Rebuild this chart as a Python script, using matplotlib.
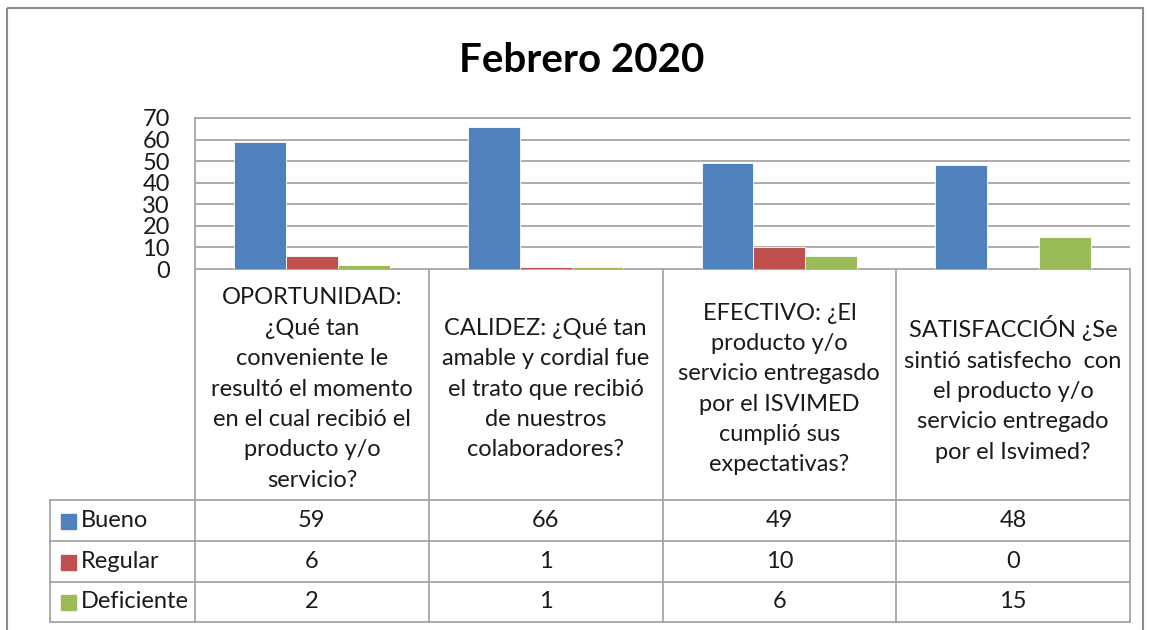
import numpy as np
import matplotlib.pyplot as plt
from matplotlib.patches import Rectangle

plt.rcParams['font.family'] = ['Lato', 'DejaVu Sans']

# Data
categories = [
    "OPORTUNIDAD:\n¿Qué tan\nconveniente le\nresultó el momento\nen el cual recibió el\nproducto y/o\nservicio?",
    "CALIDEZ: ¿Qué tan\namable y cordial fue\nel trato que recibió\nde nuestros\ncolaboradores?",
    "EFECTIVO: ¿El\nproducto y/o\nservicio entregasdo\npor el ISVIMED\ncumplió sus\nexpectativas?",
    "SATISFACCIÓN ¿Se\nsintió satisfecho  con\nel producto y/o\nservicio entregado\npor el Isvimed?",
]
series = ["Bueno", "Regular", "Deficiente"]
bueno = [59, 66, 49, 48]
regular = [6, 1, 10, 0]
deficiente = [2, 1, 6, 15]
colors = ["#4F81BD", "#C0504D", "#9BBB59"]
title = "Febrero 2020"

W, H = 1150, 630
fig = plt.figure(figsize=(W / 100, H / 100), dpi=100)

# overlay axes in pixel coordinates for frame / table
bg = fig.add_axes([0, 0, 1, 1])
bg.set_xlim(0, W)
bg.set_ylim(H, 0)
bg.axis('off')

grid_c = "#a6a6a6"
txt_c = "#1a1a1a"
# outer chart frame
bg.add_patch(Rectangle((7, 8), 1136, 640, fill=False, edgecolor="#8c8c8c", lw=1.5))
bg.text(582, 61, title, ha='center', va='center', fontsize=29, fontweight='bold')

# plot area
left, right, top, bottom = 195, 1130, 118, 269
ax = fig.add_axes([left / W, 1 - bottom / H, (right - left) / W, (bottom - top) / H])
n = len(categories)
x = np.arange(n)
bw = 0.222
for i, (vals, c) in enumerate(zip([bueno, regular, deficiente], colors)):
    ax.bar(x + (i - 1) * bw, vals, width=bw, color=c, edgecolor='white', linewidth=0.6, zorder=3)
ax.set_xlim(-0.5, n - 0.5)
ax.set_ylim(0, 70)
ax.set_yticks(range(0, 71, 10))
ax.tick_params(axis='y', length=0, labelsize=17, pad=18, labelcolor=txt_c)
ax.set_xticks([])
ax.yaxis.grid(True, color=grid_c, lw=1.3, zorder=0)
for s in ['right', 'bottom']:
    ax.spines[s].set_visible(False)
for s in ['top', 'left']:
    ax.spines[s].set_color(grid_c)
    ax.spines[s].set_linewidth(1.3)

# data table
col_edges = np.linspace(left, right, n + 1)
row_edges = [269, 500, 541, 582, 622]
lw = 1.3
bg.plot([left, right], [269, 269], color=grid_c, lw=lw)
for yy in row_edges[1:]:
    bg.plot([50, right], [yy, yy], color=grid_c, lw=lw)
for xx in col_edges:
    bg.plot([xx, xx], [269, 622], color=grid_c, lw=lw)
bg.plot([50, 50], [500, 622], color=grid_c, lw=lw)

for j, cat in enumerate(categories):
    cx = (col_edges[j] + col_edges[j + 1]) / 2
    bg.text(cx, 389, cat, ha='center', va='center', fontsize=17, linespacing=1.55, color=txt_c)

for r, (name, vals, c) in enumerate(zip(series, [bueno, regular, deficiente], colors)):
    cy = (row_edges[r + 1] + row_edges[r + 2]) / 2
    bg.add_patch(Rectangle((61, cy - 7), 15, 15, color=c))
    bg.text(81, cy, name, ha='left', va='center', fontsize=17, color=txt_c)
    for j, v in enumerate(vals):
        cx = (col_edges[j] + col_edges[j + 1]) / 2
        bg.text(cx, cy, str(v), ha='center', va='center', fontsize=17, color=txt_c)

fig.savefig("out.png", dpi=100)
